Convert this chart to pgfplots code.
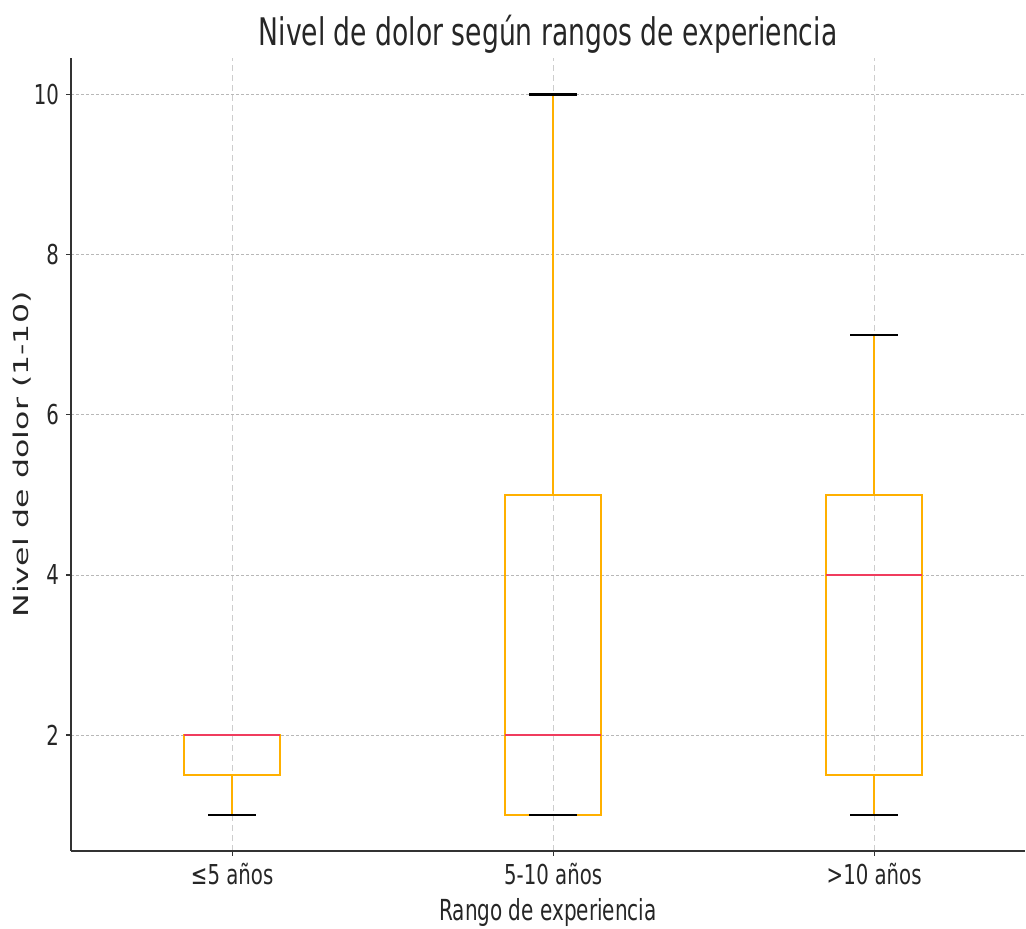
\documentclass[border=0pt]{standalone}
\usepackage{fontspec}
\setmainfont{DejaVu Sans}
\newfontfamily\titlefont[FakeStretch=0.70]{DejaVu Sans}
\newfontfamily\condfont[FakeStretch=0.72]{DejaVu Sans}
\newfontfamily\xlabfont[FakeStretch=0.69]{DejaVu Sans}
\newfontfamily\ylabfont[FakeStretch=1.55]{DejaVu Sans}
\usepackage{pgfplots}
\usepgfplotslibrary{statistics}
\pgfplotsset{compat=1.18}
\definecolor{boxorange}{HTML}{FFB000}
\definecolor{medred}{HTML}{F03C5E}
\definecolor{gridgray}{HTML}{B8B8B8}
\definecolor{spine}{HTML}{333333}
\definecolor{txt}{HTML}{262626}

\pgfplotsset{
 mybox/.style={
   boxplot/draw direction=y,
   boxplot/box extend=0.3,
   boxplot/draw/box/.code={%
     \draw[boxorange, line width=1.2pt]
       (boxplot box cs:\pgfplotsboxplotvalue{lower quartile},0) rectangle
       (boxplot box cs:\pgfplotsboxplotvalue{upper quartile},1);
     \draw[boxorange, line width=1.2pt]
       (boxplot box cs:\pgfplotsboxplotvalue{lower quartile},0.5) --
       (boxplot box cs:\pgfplotsboxplotvalue{lower whisker},0.5);
     \draw[boxorange, line width=1.2pt]
       (boxplot box cs:\pgfplotsboxplotvalue{upper quartile},0.5) --
       (boxplot box cs:\pgfplotsboxplotvalue{upper whisker},0.5);
     \draw[black, line width=1.3pt]
       (boxplot box cs:\pgfplotsboxplotvalue{lower whisker},0.25) --
       (boxplot box cs:\pgfplotsboxplotvalue{lower whisker},0.75);
     \draw[black, line width=1.3pt]
       (boxplot box cs:\pgfplotsboxplotvalue{upper whisker},0.25) --
       (boxplot box cs:\pgfplotsboxplotvalue{upper whisker},0.75);
     \draw[medred, line width=1.2pt]
       (boxplot box cs:\pgfplotsboxplotvalue{median},0) --
       (boxplot box cs:\pgfplotsboxplotvalue{median},1);
   },
   boxplot/draw/median/.code={},
   boxplot/draw/lower whisker/.code={},
   boxplot/draw/upper whisker/.code={},
 }
}

\begin{document}
\begin{tikzpicture}
\begin{axis}[
  at={(0,0)}, anchor=south west,
  scale only axis,
  width=477pt, height=396.5pt,
  xmin=0.498, xmax=3.47,
  ymin=0.55, ymax=10.46,
  axis x line*=bottom, axis y line*=left,
  axis line style={spine, line width=1pt},
  xtick={1,2,3},
  xticklabels={≤5 años, 5-10 años, >10 años},
  ytick={2,4,6,8,10},
  tick align=outside,
  major tick length=2.5pt,
  tick style={spine, line width=0.6pt},
  xmajorgrids, ymajorgrids,
  x grid style={gridgray!70, dash pattern=on 3pt off 2pt, line width=0.4pt},
  y grid style={gridgray, dash pattern=on 1.5pt off 1pt, line width=0.4pt},
  /pgf/number format/assume math mode=true,
  ticklabel style={font=\condfont\fontsize{13.7}{16}\selectfont, text=txt},
  title={Nivel de dolor según rangos de experiencia},
  title style={font=\titlefont\fontsize{19}{22}\selectfont, text=txt, at={(0.5,1)}, anchor=base, yshift=0pt},
  xlabel={Rango de experiencia},
  xlabel style={font=\xlabfont\fontsize{14.5}{17}\selectfont, text=txt},
  ylabel={Nivel de dolor (1-10)},
  ylabel style={font=\ylabfont\fontsize{10.2}{12}\selectfont, text=txt, at={(axis description cs:-0.0515,0.5)}, anchor=center},
]
\addplot[mybox, boxplot prepared={lower whisker=1, lower quartile=1.5, median=2, upper quartile=2, upper whisker=2, draw position=1}] coordinates {};
\addplot[mybox, boxplot prepared={lower whisker=1, lower quartile=1, median=2, upper quartile=5, upper whisker=10, draw position=2}] coordinates {};
\addplot[mybox, boxplot prepared={lower whisker=1, lower quartile=1.5, median=4, upper quartile=5, upper whisker=7, draw position=3}] coordinates {};
\end{axis}
\pgfresetboundingbox
\path[use as bounding box] (-35.5pt,-39pt) rectangle (477.5pt,425.5pt);
\end{tikzpicture}
\end{document}
